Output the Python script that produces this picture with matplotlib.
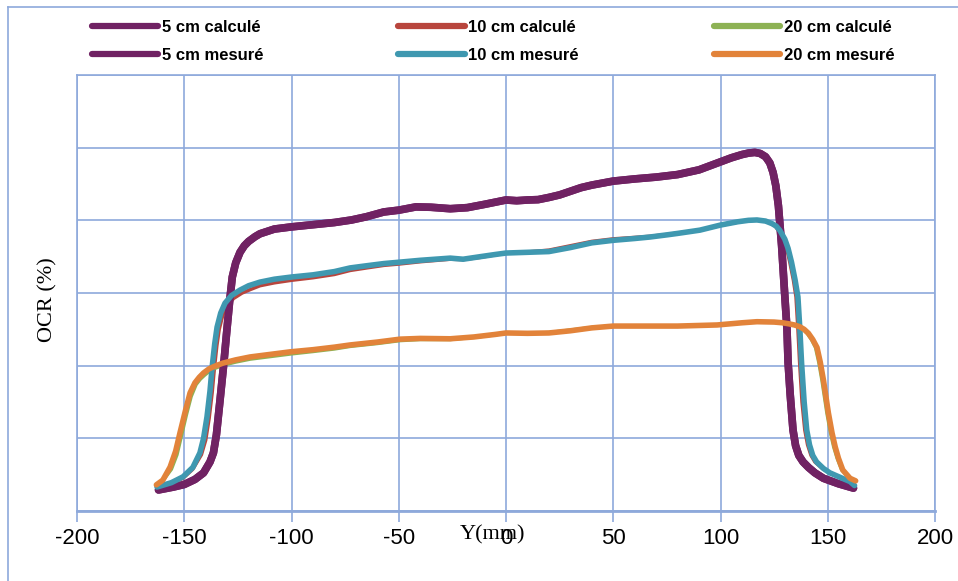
import matplotlib.pyplot as plt
from matplotlib.lines import Line2D

plt.rcParams['axes.unicode_minus'] = False

# 5 cm (calculé / mesuré)
x5_calc = [-162, -155, -150, -145, -141, -138, -136.4, -135, -133.3, -131.5, -130, -128.8,
           -127.6, -126, -124, -122, -120, -117, -114.7, -108, -100, -90, -80, -72, -65, -57, -50, -42,
           -35, -26, -18, -10, -5, 0, 5, 10, 15, 20, 25, 30, 35, 40, 50, 60, 70, 80, 90,
           100, 105, 110, 113, 116, 118.5, 121, 123, 124.5, 125.8, 127, 128.5, 130, 131, 131.5, 132.5,
           133.8, 135, 136.5, 138.5, 141, 144, 148, 155, 162]
y5_calc = [5.8, 6.6, 7.3, 8.7, 10.5, 13.5, 16, 21, 30.6, 41, 50.6, 58,
           64.4, 68.3, 71.2, 73, 74.2, 75.5, 76.3, 77.6, 78.2, 78.8, 79.4, 80.1, 81, 82.3, 82.8, 83.7,
           83.6, 83.2, 83.5, 84.4, 85, 85.6, 85.4, 85.6, 85.7, 86.3, 87, 88, 89, 89.7, 90.8, 91.4, 91.9, 92.6, 93.9,
           96.1, 97.2, 98.1, 98.5, 98.7, 98.4, 97.5, 95.8, 93.2, 89.5, 84, 73, 59, 50, 41, 32,
           22.3, 18, 15.3, 13.5, 12, 10.5, 9, 7.5, 6.3]
x5_mes = x5_calc
y5_mes = y5_calc

# 10 cm
x10_mes = [-162.7, -156, -150.6, -146, -142.7, -141, -139.4, -138, -137, -135.8, -134.7, -133,
           -131, -128, -124, -120, -114.7, -108, -100, -90, -80, -72.7, -65, -57, -49.4, -40,
           -26, -20, -12, -5, 0, 10, 20, 30, 40, 50, 60, 67, 75, 80, 90.4, 100, 108, 113,
           117, 121, 124, 126, 127.7, 130, 131.5, 133.1, 134.8, 136.1, 137, 137.8, 139, 140.2,
           141.5, 143, 144.8, 148, 151, 156, 160.4, 162.5]
y10_mes = [6.6, 7.8, 9.4, 12, 16, 20, 25.9, 33, 39.6, 46, 50.6, 54.5,
           57.2, 59.3, 60.8, 62, 63, 63.8, 64.4, 65, 65.9, 66.9, 67.5, 68.1, 68.5, 69,
           69.6, 69.3, 70, 70.6, 71, 71.2, 71.4, 72.5, 73.8, 74.5, 75, 75.4, 76, 76.4, 77.3, 78.7, 79.6, 80,
           80.1, 79.8, 79.1, 78.4, 77.2, 74.8, 72.3, 68.5, 63.5, 58.9, 50, 40.7, 30, 22.3,
           18.2, 15.3, 13.5, 11.7, 10.5, 9.2, 8.1, 7]
x10_calc = [-162.7, -156, -150.6, -146, -142, -140, -138.4, -137, -136, -134.8, -133.7, -132,
            -130, -127, -123, -119, -114.7, -108, -100, -90, -80, -72.7, -65, -57, -49.4, -40,
            -26, -20, -12, -5, 0, 10, 20, 30, 40, 50, 60, 67, 75, 80, 90.4, 100, 108, 113,
            117, 121, 123.5, 125.5, 127, 129.3, 130.8, 132.3, 134, 135.2, 136.1, 136.9, 138, 139.3,
            140.6, 142.2, 144, 147.5, 151, 156, 160.4, 162.5]
y10_calc = [6.6, 7.6, 9, 11.5, 15.5, 19.5, 25.5, 32.5, 39, 45.5, 50, 54,
            56.5, 58.5, 60, 61, 62, 62.8, 63.5, 64.2, 65.1, 66.2, 66.9, 67.6, 68, 68.6,
            69.3, 69.2, 69.8, 70.5, 71, 71.3, 71.8, 73, 74.2, 74.9, 75.3, 75.6, 76.1, 76.5, 77.3, 78.6, 79.5, 80,
            80.1, 79.8, 79.1, 78.4, 77.2, 74.8, 72.3, 68.5, 63.5, 58.9, 50, 40.7, 30, 22.3,
            18.2, 15.3, 13.5, 11.7, 10.5, 9.2, 8.1, 7]

# 20 cm
x20_mes = [-163, -160, -156.6, -154, -152, -149.5, -147.3, -145, -143, -141, -138.5, -136, -132, -126,
           -119.3, -110, -100.7, -90, -80, -72.7, -60, -49.4, -40, -26, -15, -5, 0, 10, 20,
           30, 40, 50, 67, 80, 98.4, 110, 117, 125, 129, 132, 134.5, 137, 139, 141, 143, 145, 146.5,
           148, 150.3, 152, 153.5, 155, 157, 160.4, 163]
y20_mes = [7.2, 8.5, 12.1, 16.5, 21.5, 27.5, 32.5, 35.3, 36.8, 38, 39.1, 39.8, 40.7, 41.6,
           42.4, 43.1, 43.8, 44.4, 45.1, 45.7, 46.5, 47.3, 47.5, 47.4, 47.9, 48.6, 49, 48.9, 49,
           49.6, 50.4, 50.9, 50.9, 50.9, 51.2, 51.8, 52.1, 52, 51.8, 51.5, 51.2, 50.7, 50, 48.9, 47.2, 45, 41,
           36, 27, 21.5, 17.6, 14.5, 11.3, 9, 8.3]
x20_calc = [-163, -160, -156, -153.4, -151.4, -149, -146.8, -144.5, -142.5, -140.5, -138.2, -136, -132, -126,
            -119.3, -110, -100.7, -90, -80, -72.7, -60, -49.4, -40, -26, -15, -5, 0, 10, 20,
            30, 40, 50, 67, 80, 98.4, 110, 117, 125, 129, 132, 134.3, 136.6, 138.5, 140.4, 142.4, 144.3, 145.8,
            147.3, 149.6, 151.3, 152.8, 154.4, 156.5, 160, 163]
y20_calc = [7.2, 8.3, 11.5, 15.5, 20.5, 26.5, 31.5, 34.8, 36.3, 37.4, 38.5, 39.2, 40.1, 41,
            41.8, 42.5, 43.2, 43.9, 44.6, 45.3, 46.1, 46.9, 47.2, 47.2, 47.8, 48.5, 49, 48.9, 49.1,
            49.8, 50.5, 50.9, 50.9, 50.9, 51.2, 51.8, 52.1, 52, 51.8, 51.5, 51.2, 50.7, 50, 48.9, 47.2, 45, 41,
            36, 27, 21.5, 17.6, 14.5, 11.3, 9, 8.3]

labels = ['5 cm calculé', '10 cm calculé', '20 cm calculé',
          '5 cm mesuré', '10 cm mesuré', '20 cm mesuré']

grid_col = '#8EA9DB'
c_purple = '#702263'
c_red = '#B8453D'
c_green = '#8DB254'
c_teal = '#3F98B0'
c_orange = '#E2833A'

fig = plt.figure(figsize=(9.58, 5.81), dpi=100)
ax = fig.add_axes([77 / 958, 70 / 581, 858 / 958, 436 / 581])

kw = dict(solid_capstyle='round', solid_joinstyle='round')
l1, = ax.plot(x5_calc, y5_calc, color=c_purple, lw=5.5, **kw)
l2, = ax.plot(x10_calc, y10_calc, color=c_red, lw=2.5, **kw)
l3, = ax.plot(x20_calc, y20_calc, color=c_green, lw=2.5, **kw)
l4, = ax.plot(x5_mes, y5_mes, color=c_purple, lw=5.5, **kw)
l5, = ax.plot(x10_mes, y10_mes, color=c_teal, lw=4.0, **kw)
l6, = ax.plot(x20_mes, y20_mes, color=c_orange, lw=4.0, **kw)

ax.set_xlim(-200, 200)
ax.set_ylim(0, 120)
ax.set_xticks(range(-200, 201, 50))
ax.set_yticks(range(0, 121, 20))
ax.set_yticklabels([])
ax.grid(True, color=grid_col, lw=1.2)
ax.set_axisbelow(True)
for s in ax.spines.values():
    s.set_color(grid_col)
    s.set_linewidth(1.2)
ax.spines['bottom'].set_linewidth(2)
ax.tick_params(axis='x', direction='out', length=8, color=grid_col, width=1.2,
               labelsize=16, pad=4)
ax.tick_params(axis='y', length=0)
for t in ax.get_xticklabels():
    t.set_fontfamily('Liberation Sans')

fig.text(493 / 958, 1 - 535 / 581, 'Y(mm)', family='Liberation Serif', fontsize=16,
         ha='center', va='center')
fig.text(48 / 958, 1 - 300 / 581, 'OCR (%)', family='Liberation Serif', fontsize=16,
         rotation=90, ha='center', va='center')

handles = [l1, l4, l2, l5, l3, l6]
labs = [labels[0], labels[3], labels[1], labels[4], labels[2], labels[5]]
leg = fig.legend(handles, labs, loc='upper left', bbox_to_anchor=(85 / 958, 1 - 13 / 581),
                 ncol=3, frameon=False, handlelength=4.0, handletextpad=0.2,
                 columnspacing=8.1, labelspacing=0.8, borderaxespad=0,
                 prop={'family': 'Liberation Sans', 'weight': 'bold', 'size': 12})
for h in leg.legend_handles:
    h.set_linewidth(4.5)

# cadre de la figure
fig.add_artist(Line2D([8 / 958, 8 / 958], [0, 1 - 7 / 581], color=grid_col, lw=1.2))
fig.add_artist(Line2D([8 / 958, 1], [1 - 7 / 581, 1 - 7 / 581], color=grid_col, lw=1.2))

fig.savefig('out.png', dpi=100)
